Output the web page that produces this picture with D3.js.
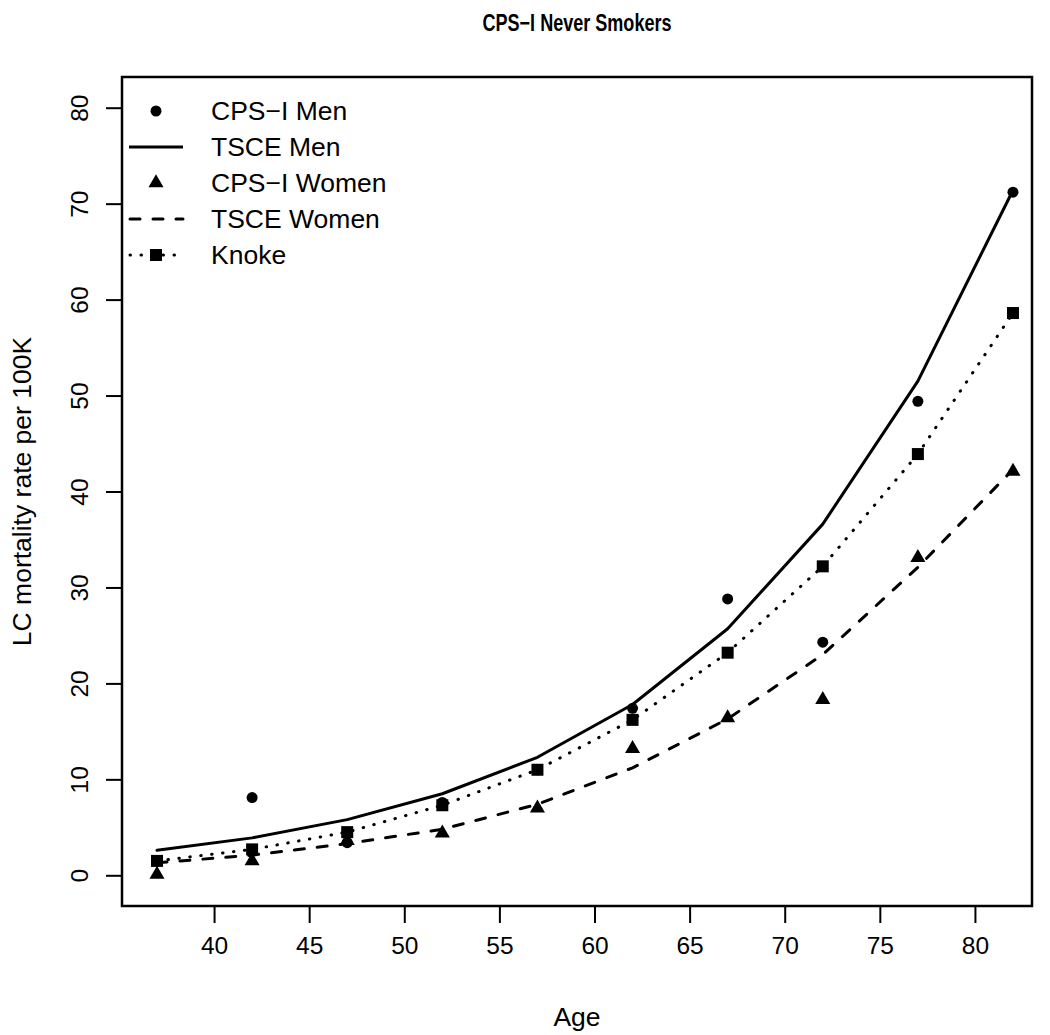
<!DOCTYPE html>
<html>
<head>
<meta charset="utf-8">
<script src="https://cdn.jsdelivr.net/npm/d3@7"></script>
<style>
  body { margin: 0; background: #fff; }
  text { font-family: "Liberation Sans", Arial, sans-serif; fill: #000; }
</style>
</head>
<body>
<div id="chart"></div>
<script>
// Ages on the x axis
const ages = [37, 42, 47, 52, 57, 62, 67, 72, 77, 82];

// Series
const cpsMen = [1.5, 8.1, 3.4, 7.6, 11.0, 17.4, 28.8, 24.3, 49.4, 71.2];
const tsceMen = [2.6, 3.9, 5.8, 8.5, 12.3, 17.8, 25.7, 36.6, 51.5, 71.4];
const cpsWomen = [0.1, 1.5, 3.6, 4.4, 7.0, 13.2, 16.4, 18.3, 33.1, 42.1];
const tsceWomen = [1.3, 2.1, 3.3, 4.8, 7.4, 11.2, 16.3, 23.0, 32.1, 42.3];
const knoke = [1.5, 2.7, 4.5, 7.3, 11.0, 16.2, 23.2, 32.2, 43.9, 58.6];

const xTicks = [40, 45, 50, 55, 60, 65, 70, 75, 80];
const yTicks = [0, 10, 20, 30, 40, 50, 60, 70, 80];

const legendLabels = ["CPS\u2212I Men", "TSCE Men", "CPS\u2212I Women", "TSCE Women", "Knoke"];

const width = 1050, height = 1035;
const plotL = 122, plotR = 1032, plotT = 77, plotB = 906;

const svg = d3.select("#chart").append("svg")
    .attr("width", width)
    .attr("height", height);

const x = d3.scaleLinear().domain([35.16, 83]).range([plotL, plotR]);
const y = d3.scaleLinear().domain([-3.2, 83.2]).range([plotB, plotT]);

// title (narrow bold, squeezed to the reference width)
svg.append("text")
    .attr("x", (plotL + plotR) / 2)
    .attr("y", 31)
    .attr("text-anchor", "middle")
    .attr("textLength", 189)
    .attr("lengthAdjust", "spacingAndGlyphs")
    .style("font-weight", "bold")
    .style("font-size", "24px")
    .text("CPS\u2212I Never Smokers");

// axes
const xAxis = svg.append("g")
    .attr("transform", `translate(0,${plotB})`)
    .call(d3.axisBottom(x).tickValues(xTicks).tickSize(17).tickPadding(14));
xAxis.select(".domain").remove();
xAxis.selectAll("line").attr("stroke", "#000").attr("stroke-width", 2);
xAxis.selectAll("text").style("font-size", "24.5px").style("font-family", "'Liberation Sans', Arial, sans-serif");

const yAxis = svg.append("g")
    .attr("transform", `translate(${plotL},0)`)
    .call(d3.axisLeft(y).tickValues(yTicks).tickSize(16).tickPadding(0));
yAxis.select(".domain").remove();
yAxis.selectAll("line").attr("stroke", "#000").attr("stroke-width", 2);
yAxis.selectAll("text")
    .attr("x", null).attr("dy", null)
    .attr("text-anchor", "middle")
    .attr("transform", "translate(-34,0) rotate(-90)")
    .style("font-size", "24.5px")
    .style("font-family", "'Liberation Sans', Arial, sans-serif");

// box
svg.append("rect")
    .attr("x", plotL).attr("y", plotT)
    .attr("width", plotR - plotL).attr("height", plotB - plotT)
    .attr("fill", "none").attr("stroke", "#000").attr("stroke-width", 2.5);

// axis labels
svg.append("text")
    .attr("x", (plotL + plotR) / 2)
    .attr("y", 1026)
    .attr("text-anchor", "middle")
    .style("font-size", "26.5px")
    .text("Age");

svg.append("text")
    .attr("transform", `translate(31,${(plotT + plotB) / 2}) rotate(-90)`)
    .attr("text-anchor", "middle")
    .style("font-size", "26.5px")
    .text("LC mortality rate per 100K");

// marker helpers
const triR = 8.7;
function triPath(cx, cy, r) {
    const hw = r * Math.sqrt(3) / 2;
    return `M${cx},${cy - r}L${cx + hw},${cy + r / 2}L${cx - hw},${cy + r / 2}Z`;
}
const sq = 12;

const line = d3.line().x((d, i) => x(ages[i])).y(d => y(d));

const plot = svg.append("g");

// CPS-I men points
plot.selectAll(".men-pt")
    .data(cpsMen)
    .enter()
    .append("circle")
    .attr("cx", (d, i) => x(ages[i]))
    .attr("cy", d => y(d))
    .attr("r", 5.5)
    .attr("fill", "#000");

// TSCE men line
plot.append("path")
    .datum(tsceMen)
    .attr("d", line)
    .attr("fill", "none")
    .attr("stroke", "#000")
    .attr("stroke-width", 3)
    .attr("stroke-linejoin", "round")
    .attr("stroke-linecap", "round");

// CPS-I women points
plot.selectAll(".women-pt")
    .data(cpsWomen)
    .enter()
    .append("path")
    .attr("d", (d, i) => triPath(x(ages[i]), y(d), triR))
    .attr("fill", "#000");

// TSCE women dashed line
plot.append("path")
    .datum(tsceWomen)
    .attr("d", line)
    .attr("fill", "none")
    .attr("stroke", "#000")
    .attr("stroke-width", 3)
    .attr("stroke-dasharray", "10,13")
    .attr("stroke-linecap", "round");

// Knoke dotted line + squares
plot.append("path")
    .datum(knoke)
    .attr("d", line)
    .attr("fill", "none")
    .attr("stroke", "#000")
    .attr("stroke-width", 3)
    .attr("stroke-dasharray", "0.5,10.5")
    .attr("stroke-linecap", "round");

plot.selectAll(".knoke-pt")
    .data(knoke)
    .enter()
    .append("rect")
    .attr("x", (d, i) => x(ages[i]) - sq / 2)
    .attr("y", d => y(d) - sq / 2)
    .attr("width", sq)
    .attr("height", sq)
    .attr("fill", "#000");

// legend
const lg = svg.append("g");
const lgX0 = 129, lgX1 = 183, lgMid = 156, lgText = 211;
const lgY = i => 111 + i * 36;

legendLabels.forEach((lab, i) => {
    lg.append("text")
        .attr("x", lgText)
        .attr("y", lgY(i))
        .attr("dy", "0.35em")
        .style("font-size", "26.5px")
        .text(lab);
});

lg.append("circle").attr("cx", lgMid).attr("cy", lgY(0)).attr("r", 5.5).attr("fill", "#000");
lg.append("line").attr("x1", lgX0).attr("x2", lgX1).attr("y1", lgY(1)).attr("y2", lgY(1))
    .attr("stroke", "#000").attr("stroke-width", 3);
lg.append("path").attr("d", triPath(lgMid, lgY(2), triR)).attr("fill", "#000");
lg.append("line").attr("x1", lgX0 + 1).attr("x2", lgX1).attr("y1", lgY(3)).attr("y2", lgY(3))
    .attr("stroke", "#000").attr("stroke-width", 3)
    .attr("stroke-dasharray", "10,13").attr("stroke-linecap", "round");
lg.append("line").attr("x1", lgX0 + 1).attr("x2", lgX1).attr("y1", lgY(4)).attr("y2", lgY(4))
    .attr("stroke", "#000").attr("stroke-width", 3)
    .attr("stroke-dasharray", "0.5,10.5").attr("stroke-linecap", "round");
lg.append("rect").attr("x", lgMid - sq / 2).attr("y", lgY(4) - sq / 2)
    .attr("width", sq).attr("height", sq).attr("fill", "#000");
</script>
</body>
</html>
